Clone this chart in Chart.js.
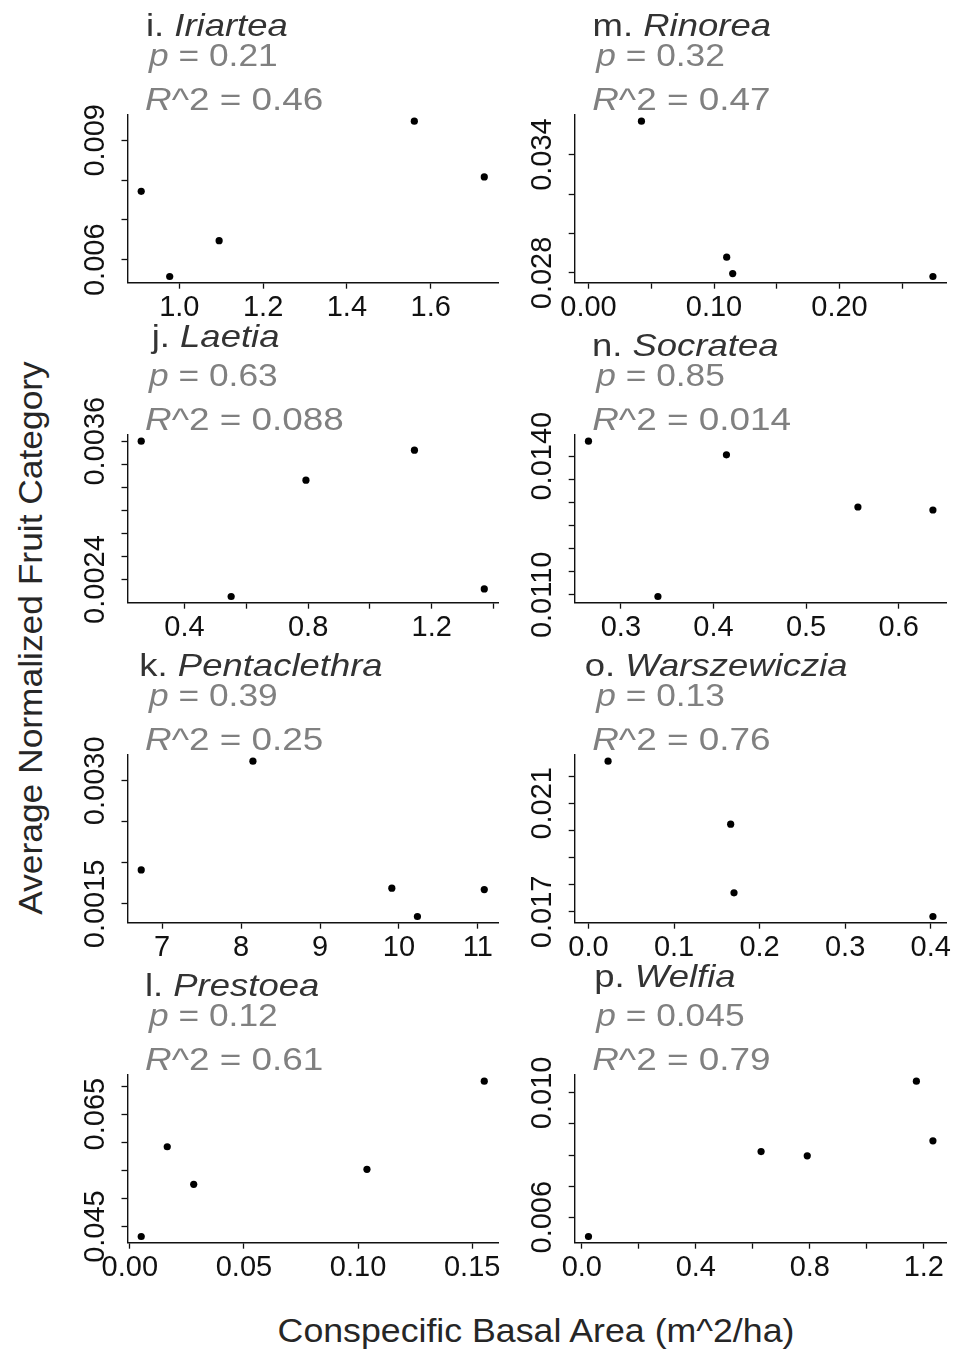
<!DOCTYPE html>
<html>
<head>
<meta charset="utf-8">
<script src="https://cdn.jsdelivr.net/npm/chart.js@4.4.1/dist/chart.umd.min.js"></script>
<style>
  html, body { margin: 0; padding: 0; background: #fff; }
  #fig { position: relative; width: 954px; height: 1355px; overflow: hidden; background: #fff; }
  #fig canvas { position: absolute; }
  .axis-title {
    position: absolute;
    font: 34px "Liberation Sans", Arial, sans-serif;
    line-height: 34px;
    color: #262626;
    white-space: nowrap;
  }
  #ylab { left: 30px; top: 638px; transform: translate(-50%, -50%) rotate(-90deg) scaleX(1.04); }
  #xlab { left: 536px; top: 1313px; transform: translateX(-50%) scaleX(1.05); }
</style>
</head>
<body>
<div id="fig">
  <div class="axis-title" id="ylab">Average Normalized Fruit Category</div>
  <div class="axis-title" id="xlab">Conspecific Basal Area (m^2/ha)</div>
</div>
<script>
// --- data (x = basal area, y = normalized fruit category) ---
const iriarteaX = [0.909, 0.977, 1.095, 1.561, 1.728];
const iriarteaY = [0.00772, 0.00558, 0.00648, 0.00948, 0.00808];
const rinoreaX = [0.0422, 0.1101, 0.1149, 0.2744];
const rinoreaY = [0.03569, 0.02880, 0.02797, 0.02782];
const laetiaX = [0.260, 0.551, 0.793, 1.144, 1.370];
const laetiaY = [0.003600, 0.002253, 0.003262, 0.003522, 0.002319];
const socrateaX = [0.265, 0.340, 0.414, 0.556, 0.637];
const socrateaY = [0.014324, 0.010964, 0.014029, 0.012900, 0.012835];
const pentaclethraX = [6.735, 8.150, 9.910, 10.234, 11.081];
const pentaclethraY = [0.001914, 0.003239, 0.001691, 0.001346, 0.001674];
const warszewicziaX = [0.0229, 0.1662, 0.1701, 0.4026];
const warszewicziaY = [0.02255, 0.02023, 0.01770, 0.01683];
const prestoeaX = [0.0050, 0.0164, 0.0280, 0.1039, 0.1553];
const prestoeaY = [0.04323, 0.05920, 0.05252, 0.05518, 0.07086];
const welfiaX = [0.0233, 0.629, 0.791, 1.174, 1.232];
const welfiaY = [0.005378, 0.008112, 0.007973, 0.010375, 0.008456];

// panels in reading order: row by row, left column then right column
const letters = ['i', 'm', 'j', 'n', 'k', 'o', 'l', 'p'];
const genera = ['Iriartea', 'Rinorea', 'Laetia', 'Socratea', 'Pentaclethra', 'Warszewiczia', 'Prestoea', 'Welfia'];
const pValues = ['0.21', '0.32', '0.63', '0.85', '0.39', '0.13', '0.12', '0.045'];
const r2Values = ['0.46', '0.47', '0.088', '0.014', '0.25', '0.76', '0.61', '0.79'];
const xSeries = [iriarteaX, rinoreaX, laetiaX, socrateaX, pentaclethraX, warszewicziaX, prestoeaX, welfiaX];
const ySeries = [iriarteaY, rinoreaY, laetiaY, socrateaY, pentaclethraY, warszewicziaY, prestoeaY, welfiaY];
const xFromZero = [false, true, false, false, false, true, false, false];

const xTickValues = [
    [1.0, 1.2, 1.4, 1.6],
    [0, 0.05, 0.10, 0.15, 0.20, 0.25],
    [0.4, 0.6, 0.8, 1.0, 1.2, 1.4],
    [0.3, 0.4, 0.5, 0.6],
    [7, 8, 9, 10, 11],
    [0, 0.1, 0.2, 0.3, 0.4],
    [0, 0.05, 0.10, 0.15],
    [0, 0.2, 0.4, 0.6, 0.8, 1.0, 1.2],
];
const xTickLabels = [
    ['1.0', '1.2', '1.4', '1.6'],
    ['0.00', '', '0.10', '', '0.20', ''],
    ['0.4', '', '0.8', '', '1.2', ''],
    ['0.3', '0.4', '0.5', '0.6'],
    ['7', '8', '9', '10', '11'],
    ['0.0', '0.1', '0.2', '0.3', '0.4'],
    ['0.00', '0.05', '0.10', '0.15'],
    ['0.0', '', '0.4', '', '0.8', '', '1.2'],
];
const yTickValues = [
    [0.006, 0.007, 0.008, 0.009],
    [0.028, 0.030, 0.032, 0.034],
    [0.0024, 0.0026, 0.0028, 0.0030, 0.0032, 0.0034, 0.0036],
    [0.0110, 0.0115, 0.0120, 0.0125, 0.0130, 0.0135, 0.0140],
    [0.0015, 0.0020, 0.0025, 0.0030],
    [0.017, 0.018, 0.019, 0.020, 0.021, 0.022],
    [0.045, 0.050, 0.055, 0.060, 0.065, 0.070],
    [0.006, 0.007, 0.008, 0.009, 0.010],
];
const yTickLabels = [
    ['0.006', '', '', '0.009'],
    ['0.028', '', '', '0.034'],
    ['0.0024', '', '', '', '', '', '0.0036'],
    ['0.0110', '', '', '', '', '', '0.0140'],
    ['0.0015', '', '', '0.0030'],
    ['0.017', '', '', '', '0.021', ''],
    ['0.045', '', '', '', '0.065', ''],
    ['0.006', '', '', '', '0.010'],
];

// --- layout ---
const FONT = '"Liberation Sans", Arial, Helvetica, sans-serif';
const TICK_SIZE = 29;
const SX = 1.14;                       // text in the figure runs a bit wide
const CANVAS_LEFT = [67, 514];
const PLOT_LEFT = [127.5, 574.7];
const PLOT_RIGHT = [498, 946.7];
const CANVAS_W = 440, CANVAS_H = 325, ROW_STEP = 320;
const PLOT_TOP = 115, PLOT_BOTTOM = 282.7;
const TICK_LEN = 6;
const titleDx = [18.4, 17.9, 24.2, 17.2, 11.8, 10, 17.4, 19.6];

// ggplot-like 4% expansion
function expand(vals) {
    const lo = Math.min(...vals), hi = Math.max(...vals);
    const d = (hi - lo) * 0.04;
    return [lo - d, hi + d];
}

function drawRuns(ctx, x, y, runs, size, color, sx = SX) {
    ctx.save();
    ctx.translate(x, y);
    ctx.scale(sx, 1);
    ctx.fillStyle = color;
    ctx.textAlign = 'left';
    ctx.textBaseline = 'alphabetic';
    let cx = 0;
    runs.forEach(([text, style]) => {
        ctx.font = `${style}${size}px ${FONT}`;
        ctx.fillText(text, cx, 0);
        cx += ctx.measureText(text).width;
    });
    ctx.restore();
}

function textPlugin(k) {
    return {
        id: 'panelText',
        afterDraw(chart) {
            const { ctx, chartArea } = chart;
            const x0 = chartArea.left;
            const titleRuns = [[letters[k] + '. ', ''], [genera[k], 'italic ']];
            ctx.save();
            ctx.font = `32px ${FONT}`;
            const desc = ctx.measureText(titleRuns[0][0] + titleRuns[1][0]).actualBoundingBoxDescent;
            ctx.restore();
            const titleBase = 35.7 - (desc > 3 ? 9 : 0);
            drawRuns(ctx, x0 + titleDx[k], titleBase, titleRuns, 32, '#333333');
            drawRuns(ctx, x0 + 21.5, 65.7, [['p', 'italic '], [' = ' + pValues[k], '']], 31, '#808080');
            drawRuns(ctx, x0 + 17.5, 110, [['R', 'italic '], ['^2 = ' + r2Values[k], '']], 31, '#808080', 1.19);
        },
    };
}

const fig = document.getElementById('fig');
const measure = document.createElement('canvas').getContext('2d');
measure.font = `${TICK_SIZE}px ${FONT}`;

letters.forEach((letter, k) => {
    const col = k % 2;
    const row = Math.floor(k / 2);
    const cv = document.createElement('canvas');
    cv.width = CANVAS_W;
    cv.height = CANVAS_H;
    cv.style.left = CANVAS_LEFT[col] + 'px';
    cv.style.top = row * ROW_STEP + 'px';
    fig.appendChild(cv);

    const xs = xSeries[k];
    const ys = ySeries[k];
    const [xMin, xMax] = expand(xFromZero[k] ? [0, ...xs] : xs);
    const [yMin, yMax] = expand(ys);
    const widest = Math.max(...yTickLabels[k].map((s) => measure.measureText(s).width));
    const yAxisW = PLOT_LEFT[col] - CANVAS_LEFT[col];
    const padRight = CANVAS_LEFT[col] + CANVAS_W - PLOT_RIGHT[col];

    const tickFont = { family: FONT, size: TICK_SIZE, lineHeight: 1.2 };
    const gridOpts = {
        display: true,
        drawOnChartArea: false,
        drawTicks: true,
        tickLength: TICK_LEN,
        tickColor: '#111',
        tickWidth: 1.3,
    };
    const borderOpts = { display: true, color: '#111', width: 1.4 };

    new Chart(cv, {
        type: 'scatter',
        data: {
            datasets: [
                {
                    data: xs.map((x, i) => ({ x, y: ys[i] })),
                    pointRadius: 3.6,
                    pointHoverRadius: 3.6,
                    pointBackgroundColor: '#000',
                    pointBorderColor: '#000',
                    pointBorderWidth: 0,
                },
            ],
        },
        options: {
            responsive: false,
            animation: false,
            events: [],
            layout: { padding: { left: 0, right: padRight, top: PLOT_TOP, bottom: 0 } },
            plugins: { legend: { display: false }, tooltip: { enabled: false } },
            scales: {
                x: {
                    type: 'linear',
                    min: xMin,
                    max: xMax,
                    afterBuildTicks: (s) => { s.ticks = xTickValues[k].map((v) => ({ value: v })); },
                    afterFit: (s) => { s.height = CANVAS_H - PLOT_BOTTOM; },
                    ticks: {
                        autoSkip: false,
                        maxRotation: 0,
                        minRotation: 0,
                        padding: 2,
                        color: '#111',
                        font: tickFont,
                        callback: (v, i) => xTickLabels[k][i],
                    },
                    grid: gridOpts,
                    border: borderOpts,
                },
                y: {
                    type: 'linear',
                    min: yMin,
                    max: yMax,
                    afterBuildTicks: (s) => { s.ticks = yTickValues[k].map((v) => ({ value: v })); },
                    afterFit: (s) => { s.width = yAxisW; },
                    ticks: {
                        autoSkip: false,
                        minRotation: 90,
                        maxRotation: 90,
                        crossAlign: 'center',
                        padding: 32 - TICK_LEN - widest / 2,
                        color: '#111',
                        font: tickFont,
                        callback: (v, i) => yTickLabels[k][i],
                    },
                    grid: gridOpts,
                    border: borderOpts,
                },
            },
        },
        plugins: [textPlugin(k)],
    });
});
</script>
</body>
</html>
